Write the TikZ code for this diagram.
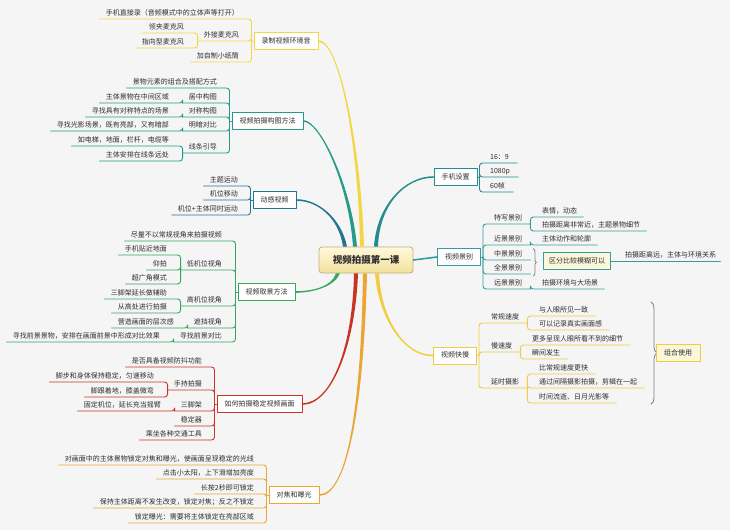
\documentclass[tikz,border=0pt]{standalone}
\usepackage{fontspec}
\setmainfont{Noto Sans CJK SC}
\usetikzlibrary{calc,decorations.pathreplacing}
\definecolor{paper}{RGB}{245,245,245}
\definecolor{ink}{RGB}{45,45,45}
\definecolor{brYellow}{RGB}{244,214,66}
\definecolor{brTeal}{RGB}{38,155,140}
\definecolor{brPetrol}{RGB}{35,118,145}
\definecolor{brGreen}{RGB}{52,168,92}
\definecolor{brRed}{RGB}{200,52,36}
\definecolor{brOrange}{RGB}{234,165,52}
\definecolor{brSea}{RGB}{36,140,140}
\definecolor{brAqua}{RGB}{52,158,158}
\definecolor{brGold}{RGB}{242,204,64}
\definecolor{braceg}{RGB}{130,130,130}
\definecolor{hubtop}{RGB}{255,249,220}
\definecolor{hubbot}{RGB}{243,225,155}
\definecolor{hubedge}{RGB}{190,175,130}
\definecolor{sumfill}{RGB}{250,247,218}

% tapered main branch: colour, end half-width, start, control 1, control 2, end
\newcommand{\mainbranch}[6]{%
  \fill[#1] ($(#3)+(-2,0)$) .. controls ($(#4)+(-1.3,0)$) and ($(#5)+(0,#2)$) .. ($(#6)+(0,#2)$)
    -- ($(#6)-(0,#2)$) .. controls ($(#5)-(0,#2)$) and ($(#4)+(1.3,0)$) .. ($(#3)+(2,0)$) -- cycle;}

\begin{document}
\begin{tikzpicture}[x=1pt,y=-1pt,line cap=round,line join=round,
  lbl/.style={inner xsep=0pt,inner ysep=2pt,text height=5.5pt,text depth=1.5pt,
    font=\fontsize{7}{8}\selectfont,text=ink},
  lblL/.style={lbl,anchor=south east},
  lblR/.style={lbl,anchor=south west},
  topic/.style={draw=#1,fill=white,line width=1pt,inner xsep=7.5pt,inner ysep=0pt,
    minimum height=17pt,text height=5.5pt,text depth=1.5pt,
    font=\fontsize{7}{8}\selectfont,text=ink},
  sumbox/.style={topic=#1,fill=sumfill,inner xsep=5.5pt},
  hubbox/.style={draw=hubedge,line width=0.8pt,rounded corners=3pt,top color=hubtop,
    bottom color=hubbot,minimum width=94pt,minimum height=26pt,
    font=\fontsize{9.5}{11}\selectfont\bfseries,text=ink},
  twig/.style={draw=#1,line width=0.9pt,rounded corners=3pt},
  sumbrace/.style={draw=braceg,line width=0.8pt,decorate,
    decoration={brace,amplitude=#1}}]
 \fill[paper] (0,0) rectangle (730,530);
 \useasboundingbox (0,0) rectangle (730,530);

 \node[hubbox] (hub) at (366,260) {视频拍摄第一课};

 % left side
 \node[topic=brYellow] (rec) at (286,41) {录制视频环境音};
 \node[lblL] (rec1) at (239,19) {手机直接录（音频模式中的立体声等打开）};
 \node[lblL] (rec2) at (239,41) {外接麦克风};
 \node[lblL] (rec3) at (239,62) {加自制小纸筒};
 \node[lblL] (rec21) at (184,33) {领夹麦克风};
 \node[lblL] (rec22) at (184,48) {指向型麦克风};
 \draw[twig=brYellow] (rec.west) -- ++(-2,0) coordinate (recJ);
 \foreach \k in {rec1,rec2,rec3}
  \draw[twig=brYellow] (recJ) |- ([xshift=-6pt]\k.south west);
 \foreach \k in {rec21,rec22}
  \draw[twig=brYellow] ([xshift=-6pt]rec2.south west) |- ([xshift=-6pt]\k.south west);

 \node[topic=brTeal] (comp) at (267.5,121) {视频拍摄构图方法};
 \node[lblL] (comp1) at (217,88) {景物元素的组合及搭配方式};
 \node[lblL] (comp2) at (217,103) {居中构图};
 \node[lblL] (comp3) at (217,117) {对称构图};
 \node[lblL] (comp4) at (217,131) {明暗对比};
 \node[lblL] (comp5) at (217,153) {线条引导};
 \node[lblL] (comp21) at (169,103) {主体景物在中间区域};
 \node[lblL] (comp31) at (169,117) {寻找具有对称特点的场景};
 \node[lblL] (comp41) at (169,131) {寻找光影场景，既有亮部，又有暗部};
 \node[lblL] (comp51) at (169,146) {如电梯，地面，栏杆，电缆等};
 \node[lblL] (comp52) at (169,161) {主体安排在线条远处};
 \draw[twig=brTeal] (comp.west) -- ++(-2,0) coordinate (compJ);
 \foreach \k in {comp1,comp2,comp3,comp4,comp5}
  \draw[twig=brTeal] (compJ) |- ([xshift=-6pt]\k.south west);
 \foreach \p/\k in {comp2/comp21,comp3/comp31,comp4/comp41,comp5/comp51,comp5/comp52}
  \draw[twig=brTeal] ([xshift=-6pt]\p.south west) |- ([xshift=-6pt]\k.south west);

 \node[topic=brPetrol] (dyn) at (274.5,200) {动感视频};
 \node[lblL] (dyn1) at (238,186) {主题运动};
 \node[lblL] (dyn2) at (238,200) {机位移动};
 \node[lblL] (dyn3) at (238,215) {机位+主体同时运动};
 \draw[twig=brPetrol] (dyn.west) -- ++(-2,0) coordinate (dynJ);
 \foreach \k in {dyn1,dyn2,dyn3}
  \draw[twig=brPetrol] (dynJ) |- ([xshift=-6pt]\k.south west);

 \node[topic=brGreen] (view) at (266.5,292) {视频取景方法};
 \node[lblL] (view1) at (222,241) {尽量不以常规视角来拍摄视频};
 \node[lblL] (view2) at (222,270) {低机位视角};
 \node[lblL] (view3) at (222,306) {高机位视角};
 \node[lblL] (view4) at (222,328) {遮挡视角};
 \node[lblL] (view5) at (222,342) {寻找前景对比};
 \node[lblL] (view21) at (167,255) {手机贴近地面};
 \node[lblL] (view22) at (167,270) {仰拍};
 \node[lblL] (view23) at (167,284) {超广角模式};
 \node[lblL] (view31) at (167,299) {三脚架延长做辅助};
 \node[lblL] (view32) at (167,313) {从高处进行拍摄};
 \node[lblL] (view41) at (174,328) {营造画面的层次感};
 \node[lblL] (view51) at (160,342) {寻找前景景物，安排在画面前景中形成对比效果};
 \draw[twig=brGreen] (view.west) -- ++(-2,0) coordinate (viewJ);
 \foreach \k in {view1,view2,view3,view4,view5}
  \draw[twig=brGreen] (viewJ) |- ([xshift=-6pt]\k.south west);
 \foreach \p/\k in {view2/view21,view2/view22,view2/view23,view3/view31,view3/view32,view4/view41,view5/view51}
  \draw[twig=brGreen] ([xshift=-6pt]\p.south west) |- ([xshift=-6pt]\k.south west);

 \node[topic=brRed] (stab) at (259.5,404) {如何拍摄稳定视频画面};
 \node[lblL] (stab1) at (202,367) {是否具备视频防抖功能};
 \node[lblL] (stab2) at (202,390) {手持拍摄};
 \node[lblL] (stab3) at (202,411) {三脚架};
 \node[lblL] (stab4) at (202,426) {稳定器};
 \node[lblL] (stab5) at (202,440) {乘坐各种交通工具};
 \node[lblL] (stab21) at (154,382) {脚步和身体保持稳定，匀速移动};
 \node[lblL] (stab22) at (154,397) {脚跟着地，膝盖微弯};
 \node[lblL] (stab31) at (161,411) {固定机位，延长充当摇臂};
 \draw[twig=brRed] (stab.west) -- ++(-2,0) coordinate (stabJ);
 \foreach \k in {stab1,stab2,stab3,stab4,stab5}
  \draw[twig=brRed] (stabJ) |- ([xshift=-6pt]\k.south west);
 \foreach \p/\k in {stab2/stab21,stab2/stab22,stab3/stab31}
  \draw[twig=brRed] ([xshift=-6pt]\p.south west) |- ([xshift=-6pt]\k.south west);

 \node[topic=brOrange] (foc) at (294,495) {对焦和曝光};
 \node[lblL] (foc1) at (254,465) {对画面中的主体景物锁定对焦和曝光，使画面呈现稳定的光线};
 \node[lblL] (foc2) at (254,479) {点击小太阳，上下滑增加亮度};
 \node[lblL] (foc3) at (254,494) {长按2秒即可锁定};
 \node[lblL] (foc4) at (254,508) {保持主体距离不发生改变，锁定对焦；反之不锁定};
 \node[lblL] (foc5) at (254,523) {锁定曝光：需要将主体锁定在亮部区域};
 \draw[twig=brOrange] (foc.west) -- ++(-2,0) coordinate (focJ);
 \foreach \k in {foc1,foc2,foc3,foc4,foc5}
  \draw[twig=brOrange] (focJ) |- ([xshift=-6pt]\k.south west);

 % right side
 \node[topic=brSea] (set) at (455.5,177) {手机设置};
 \node[lblR] (set1) at (490,163) {16：9};
 \node[lblR] (set2) at (490,177) {1080p};
 \node[lblR] (set3) at (490,192) {60帧};
 \draw[twig=brSea] (set.east) -- ++(2,0) coordinate (setJ);
 \foreach \k in {set1,set2,set3}
  \draw[twig=brSea] (setJ) |- ([xshift=8pt]\k.south east);

 \node[topic=brAqua] (shot) at (459,257) {视频景别};
 \node[lblR] (shot1) at (494,224) {特写景别};
 \node[lblR] (shot2) at (494,245) {近景景别};
 \node[lblR] (shot3) at (494,260) {中景景别};
 \node[lblR] (shot4) at (494,274) {全景景别};
 \node[lblR] (shot5) at (494,289) {远景景别};
 \node[lblR] (shot11) at (542,217) {表情，动态};
 \node[lblR] (shot12) at (542,231) {拍摄距离非常近，主题景物细节};
 \node[lblR] (shot21) at (542,245) {主体动作和轮廓};
 \node[lblR] (shot51) at (542,289) {拍摄环境与大场景};
 \draw[twig=brAqua] (shot.east) -- ++(2,0) coordinate (shotJ);
 \foreach \k in {shot1,shot2,shot3,shot4,shot5}
  \draw[twig=brAqua] (shotJ) |- ([xshift=8pt]\k.south east);
 \foreach \p/\k in {shot1/shot11,shot1/shot12,shot2/shot21,shot5/shot51}
  \draw[twig=brAqua] ([xshift=8pt]\p.south east) |- ([xshift=6pt]\k.south east);
 \draw[sumbrace=3pt] ($(shot3.north east)+(11,0)$) -- ($(shot4.south east)+(11,2)$);
 \node[sumbox=brAqua] (sum1) at (577,261) {区分比较模糊可以};
 \node[lblR] (far) at (625,261) {拍摄距离远，主体与环境关系};
 \draw[twig=brAqua] (sum1.east) -- ([xshift=4pt]far.south east);

 \node[topic=brGold] (speed) at (455,355.5) {视频快慢};
 \node[lblR] (speed1) at (491,323) {常规速度};
 \node[lblR] (speed2) at (491,352) {慢速度};
 \node[lblR] (speed3) at (491,388) {延时摄影};
 \node[lblR] (speed11) at (539,316) {与人眼所见一致};
 \node[lblR] (speed12) at (539,330) {可以记录真实画面感};
 \node[lblR] (speed21) at (532,345) {更多呈现人眼所看不到的细节};
 \node[lblR] (speed22) at (532,359) {瞬间发生};
 \node[lblR] (speed31) at (539,374) {比常规速度更快};
 \node[lblR] (speed32) at (539,388) {通过间隔摄影拍摄，剪辑在一起};
 \node[lblR] (speed33) at (539,403) {时间流逝、日月光影等};
 \draw[twig=brGold] (speed.east) -- ++(2,0) coordinate (speedJ);
 \foreach \k in {speed1,speed2,speed3}
  \draw[twig=brGold] (speedJ) |- ([xshift=8pt]\k.south east);
 \foreach \p/\k in {speed1/speed11,speed1/speed12,speed2/speed21,speed2/speed22,speed3/speed31,speed3/speed32,speed3/speed33}
  \draw[twig=brGold] ([xshift=8pt]\p.south east) |- ([xshift=7pt]\k.south east);
 \coordinate (bigtop) at (651,302);
 \coordinate (bigbot) at (651,404);
 \draw[sumbrace=6pt] (bigtop) -- (bigbot);
 \node[sumbox=brGold,minimum width=44pt] (sum2) at (678,353) {组合使用};

 % main branches
 \mainbranch{brYellow}{0.8}{[xshift=-4pt]hub.north}{360,150}{340,41}{rec.east}
 \mainbranch{brTeal}{0.8}{[xshift=-11pt]hub.north}{350,185}{320,121}{comp.east}
 \mainbranch{brPetrol}{0.8}{[xshift=-21pt]hub.north}{340,218}{318,200}{dyn.east}
 \mainbranch{brSea}{-0.8}{[xshift=10pt]hub.north}{378,205}{405,177}{set.west}
 \mainbranch{brGreen}{-0.8}{[xshift=-28pt]hub.south}{333,287}{312,292}{view.east}
 \mainbranch{brRed}{-0.8}{[xshift=-10pt]hub.south}{354,345}{332,404}{stab.east}
 \mainbranch{brOrange}{-0.8}{[xshift=-1pt]hub.south}{362,420}{345,495}{foc.east}
 \mainbranch{brGold}{0.8}{[xshift=11pt]hub.south}{380,320}{405,356}{speed.west}
 \draw[brAqua,line width=1.6pt] (hub.east) -- (shot.west);
\end{tikzpicture}
\end{document}
